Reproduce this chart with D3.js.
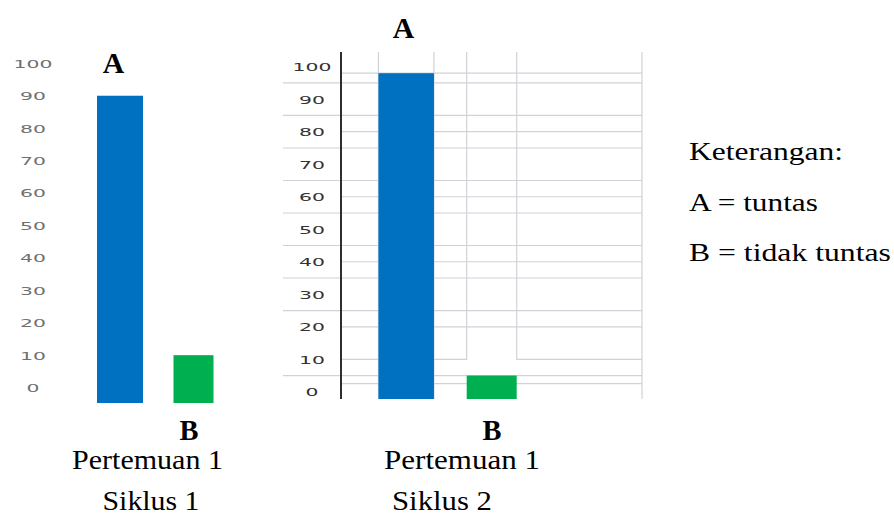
<!DOCTYPE html>
<html>
<head>
<meta charset="utf-8">
<script src="https://cdn.jsdelivr.net/npm/d3@7"></script>
<style>
  html, body { margin: 0; padding: 0; background: #fff; }
  svg { display: block; }
</style>
</head>
<body>
<svg id="chart" width="894" height="519"></svg>
<script>
// Ketuntasan belajar: Pertemuan 1 Siklus 1 dan Pertemuan 1 Siklus 2
const categories = ["A", "B"];
const siklus1Values = [90, 10];
const siklus2Values = [98, 5];
const tickValues = [0, 10, 20, 30, 40, 50, 60, 70, 80, 90, 100];
const tickLabels = ["0", "10", "20", "30", "40", "50", "60", "70", "80", "90", "100"];
// gridlines of the second panel
const gridFullValues = [95, 85, 75, 65, 55, 45, 35, 25, 5];
const gridPlotValues = [98, 80, 60, 40, 20, 2.5];
const gridBreakValue = 10;
const captions1 = ["Pertemuan 1", "Siklus 1"];
const captions2 = ["Pertemuan 1", "Siklus 2"];
const legendLines = ["Keterangan:", "A = tuntas", "B = tidak tuntas"];
const barColors = { A: "#0070c0", B: "#00b050" };

const svg = d3.select("#chart");
svg.append("rect").attr("width", 894).attr("height", 519).attr("fill", "#fff");

const serif = "'Liberation Serif', 'Times New Roman', serif";
const sans = "'DejaVu Sans', Verdana, sans-serif";
const gridColor = "#cfd2d8";

// ---------- panel layouts ----------
const P1 = {
  x: d3.scalePoint().domain(categories).range([120, 193.5]),
  y: d3.scaleLinear().domain([0, 100]).range([387.6, 63.3]),
  barWidth: { A: 46, B: 40 },
  base: 403,
  labelX: 33,
  labelColor: "#707070"
};
const P2 = {
  x: d3.scalePoint().domain(categories).range([406.2, 491.7]),
  y: d3.scaleLinear().domain([0, 100]).range([391.8, 66.7]),
  barWidth: { A: 55.5, B: 50 },
  top: 52,
  base: 399,
  axisX: 341,
  gridLeft: 283,
  right: 642,
  labelX: 312,
  labelColor: "#333333"
};

// stretched value labels drawn through a D3 axis
function valueAxis(P) {
  const g = svg.append("g").attr("transform", `translate(${P.labelX},0)`)
    .call(d3.axisLeft(P.y).tickValues(tickValues)
      .tickFormat((d, i) => tickLabels[i]).tickSize(0).tickPadding(0));
  g.select(".domain").remove();
  g.selectAll("text")
    .attr("x", 0)
    .attr("dy", "0.36em")
    .attr("text-anchor", "middle")
    .attr("transform", "scale(1.85,1)")
    .attr("fill", P.labelColor)
    .style("font-family", sans)
    .style("font-size", "11px");
}

function bars(P, values) {
  svg.append("g").selectAll("rect")
    .data(categories.map((c, i) => ({ c, v: values[i] })))
    .join("rect")
    .attr("x", d => P.x(d.c) - P.barWidth[d.c] / 2)
    .attr("width", d => P.barWidth[d.c])
    .attr("y", d => P.y(d.v))
    .attr("height", d => P.base - P.y(d.v))
    .attr("fill", d => barColors[d.c]);
}

function edges(P, c) {
  return [P.x(c) - P.barWidth[c] / 2, P.x(c) + P.barWidth[c] / 2];
}

// ---------- panel 1 (Siklus 1) ----------
valueAxis(P1);
bars(P1, siklus1Values);

// ---------- panel 2 (Siklus 2) ----------
const grid = svg.append("g").attr("stroke", gridColor).attr("stroke-width", 1.2).attr("fill", "none");
grid.selectAll("line.full").data(gridFullValues).join("line").attr("class", "full")
  .attr("x1", P2.gridLeft).attr("x2", P2.right)
  .attr("y1", d => P2.y(d)).attr("y2", d => P2.y(d));
grid.selectAll("line.plot").data(gridPlotValues).join("line").attr("class", "plot")
  .attr("x1", P2.axisX).attr("x2", P2.right)
  .attr("y1", d => P2.y(d)).attr("y2", d => P2.y(d));

const [bL, bR] = edges(P2, "B");
const [aL, aR] = edges(P2, "A");
const yb = P2.y(gridBreakValue);
grid.append("path")
  .attr("d", `M${P2.axisX},${yb}H${bL}V${P2.top}M${bR},${P2.top}V${yb}H${P2.right}`);
grid.selectAll("line.vert").data([aL, aR, P2.right]).join("line").attr("class", "vert")
  .attr("x1", d => d).attr("x2", d => d)
  .attr("y1", P2.top).attr("y2", P2.base);

valueAxis(P2);
bars(P2, siklus2Values);

svg.append("line")
  .attr("x1", P2.axisX).attr("x2", P2.axisX)
  .attr("y1", P2.top).attr("y2", P2.base)
  .attr("stroke", "#2e2e2e").attr("stroke-width", 2);

// ---------- captions: glyphs widened horizontally to the given width ----------
function label(x, y, s, size, width, bold, anchor) {
  const g = svg.append("g");
  const t = g.append("text")
    .attr("text-anchor", anchor || "middle")
    .style("font-family", serif)
    .style("font-size", size + "px")
    .style("font-weight", bold ? "bold" : "normal")
    .attr("fill", "#000")
    .text(s);
  const natural = t.node().getComputedTextLength() || width;
  g.attr("transform", `translate(${x},${y}) scale(${width / natural},1)`);
}

label(113.5, 72.5, categories[0], 30, 21.5, true);
label(403.5, 38, categories[0], 30, 21.5, true);
label(189, 440, categories[1], 30, 19, true);
label(492, 440, categories[1], 30, 19, true);

label(147.5, 469, captions1[0], 28, 151, false);
label(151, 510, captions1[1], 28, 97, false);
label(462, 469, captions2[0], 28, 156, false);
label(442, 510, captions2[1], 28, 100, false);

// ---------- legend ----------
const legendWidths = [154, 129, 202];
legendLines.forEach((s, i) => {
  label(689, 160 + i * 50.5, s, 26, legendWidths[i], false, "start");
});
</script>
</body>
</html>
